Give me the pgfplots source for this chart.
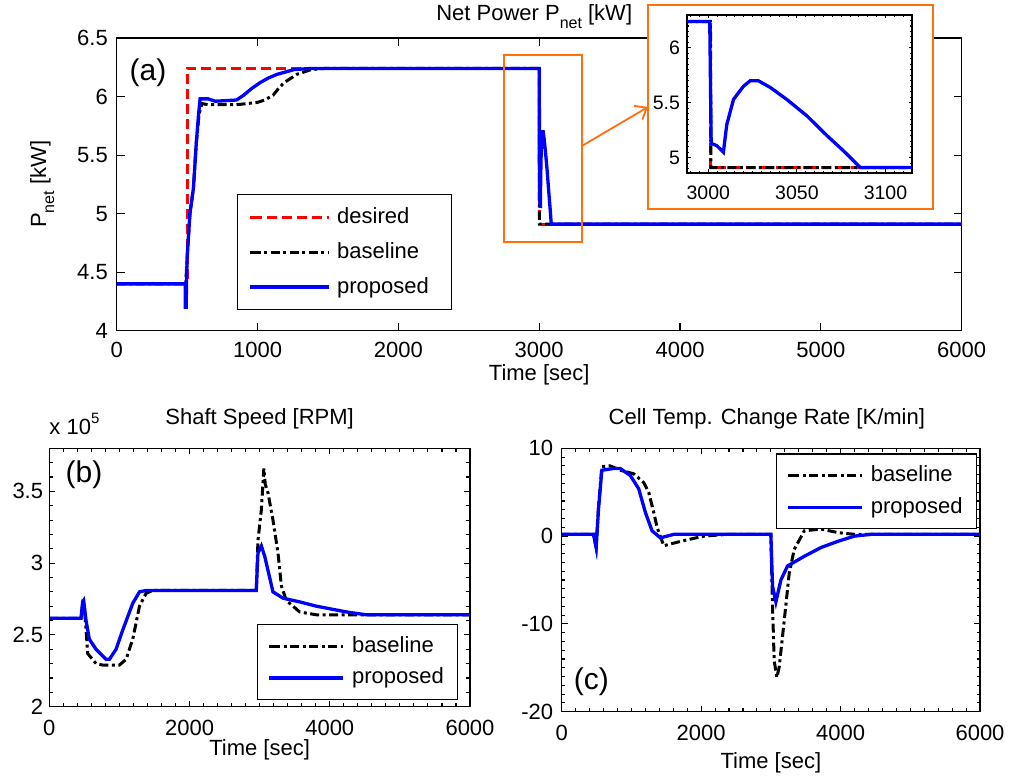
\documentclass[border=0pt]{standalone}
\usepackage{fontspec}
\setmainfont{Liberation Sans}
\usepackage{pgfplots}
\usepackage{pgfplotstable}
\pgfplotsset{compat=1.18}
\usetikzlibrary{arrows.meta}
\definecolor{myorange}{RGB}{255,110,15}
\newcommand{\fs}{\fontsize{22}{26}\selectfont}
\newcommand{\fsm}{\fontsize{19.5}{23}\selectfont}
\newcommand{\fsl}{\fontsize{30}{34}\selectfont}
\newcommand{\net}{\raisebox{-8pt}{\fontsize{16}{16}\selectfont net}}

\pgfplotstableread{
x y
0 4.4
500 4.4
500 6.24
3001 6.24
3001 4.91
6000 4.91
}\desA
\pgfplotstableread{
x y
0 4.4
490 4.4
500 4.62
520 5.0
545 5.22
565 5.6
585 5.85
605 5.94
650 5.93
850 5.93
1000 5.95
1050 5.97
1110 6.01
1150 6.07
1190 6.12
1280 6.19
1380 6.23
1480 6.24
3001.2 6.24
3001.5 4.91
6000 4.91
}\baseA
\pgfplotstableread{
x y
0 4.4
486 4.4
487 4.2
494 4.2
495 4.4
500 4.62
520 5.0
545 5.22
565 5.6
580 5.83
592 5.98
650 5.98
700 5.96
850 5.97
900 6.01
960 6.07
1020 6.12
1080 6.16
1140 6.19
1260 6.23
1380 6.24
3000.8 6.24
3001.6 5.13
3004.7 5.11
3008.5 5.05
3010.4 5.30
3014.2 5.53
3019.8 5.65
3023.6 5.70
3028.3 5.70
3034.9 5.64
3044.3 5.53
3055.7 5.38
3067 5.20
3076.4 5.06
3085.8 4.91
6000 4.91
}\propA
\pgfplotstableread{
x y
0 2.616
452 2.616
476 2.72
500 2.70
548 2.37
667 2.30
762 2.29
1000 2.29
1095 2.33
1190 2.47
1286 2.70
1381 2.79
1476 2.81
2952 2.81
2976 3.16
3024 3.37
3060 3.66
3080 3.55
3119 3.49
3190 3.30
3262 3.07
3310 2.84
3381 2.74
3571 2.66
3810 2.64
6000 2.64
}\baseB
\pgfplotstableread{
x y
0 2.616
452 2.616
476 2.73
490 2.74
524 2.60
571 2.47
667 2.40
810 2.33
857 2.33
952 2.40
1048 2.535
1190 2.72
1286 2.80
1381 2.81
2952 2.81
2976 3.07
3024 3.12
3071 3.05
3190 2.80
3333 2.756
3571 2.73
3810 2.70
4238 2.66
4524 2.64
6000 2.64
}\propB
\pgfplotstableread{
x y
0 0.2
456 0.2
494 -1.3
528 3.3
576 7.9
696 8.0
840 7.5
1032 7.1
1176 6.1
1248 5.0
1320 2.7
1368 1.0
1464 -1.1
1704 -0.6
2040 0
2376 0.2
3000 0.2
3024 -8.0
3048 -14.2
3086 -16.1
3120 -14.9
3192 -9.6
3264 -4.2
3336 -1.5
3480 0.6
3720 0.8
3960 0.4
4200 0.2
6000 0.2
}\baseC
\pgfplotstableread{
x y
0 0.2
456 0.2
494 -1.3
528 3.1
576 7.5
744 7.7
840 7.7
984 6.9
1104 5.4
1200 2.7
1296 0.6
1416 -0.2
1608 0.2
3000 0.2
3024 -5.7
3072 -7.5
3144 -5.0
3240 -3.4
3480 -2.3
3720 -1.3
3960 -0.6
4200 0
4440 0.2
6000 0.2
}\propC

\pgfplotsset{
 myaxis/.style={
   scale only axis,
   anchor=south west,
   /pgf/number format/assume math mode=true,
   /pgf/number format/1000 sep={},
   scaled ticks=false,
   axis line style={line width=1.2pt},
   major tick style={black, line width=1.1pt},
   minor tick style={black, line width=1.1pt},
   tick align=inside,
   xticklabel style={font=\fs, inner sep=0pt, anchor=center},
   yticklabel style={font=\fs, inner sep=0pt, anchor=east},
   label style={font=\fs},
   title style={font=\fs},
   legend cell align=left,
   legend style={font=\fs, draw=black, line width=1.2pt, anchor=north west,
     inner xsep=10pt, column sep=5pt,
     nodes={inner sep=2pt, text height=16.5pt, text depth=4.5pt}},
 },
 sDes/.style={red, line width=3pt, dash pattern=on 10pt off 5pt},
 sBase/.style={black, line width=3pt, dash pattern=on 9pt off 3.5pt on 3pt off 3.5pt},
 sProp/.style={blue, line width=3.3pt},
}

\begin{document}
\begin{tikzpicture}
\path[use as bounding box] (0pt,0pt) rectangle (1009pt,778pt);

% ---------- (a) main ----------
\begin{axis}[myaxis, clip=false,
  at={(116.7pt,447.3pt)}, width=845pt, height=292.7pt,
  xmin=0, xmax=6000, ymin=4, ymax=6.5,
  xtick={0,1000,2000,3000,4000,5000,6000},
  ytick={4,4.5,5,5.5,6,6.5},
  major tick length=8pt,
  xticklabel style={yshift=-19.3pt},
  yticklabel style={xshift=-8.7pt},
  xlabel={Time [sec]},
  xlabel style={at={(axis description cs:0.5,0)}, anchor=center, yshift=-44pt},
  ylabel={P\net{} [kW]},
  ylabel style={at={(axis description cs:-0.088,0.5)}, anchor=center},
  title={Net Power P\net{} [kW]},
  title style={at={(axis description cs:0.5,1)}, anchor=base, yshift=11.7pt, xshift=-5pt},
  legend style={at={(0.1427,0.467)}, inner ysep=10pt, row sep=10pt},
  legend image code/.code={\path (0pt,0pt) -- (2pt,0pt); \draw[#1] (2pt,0pt) -- (79pt,0pt);},
]
\addplot[sDes] table {\desA};
\addlegendentry{\makebox[102pt][l]{desired}}
\addplot[sBase] table {\baseA};
\addlegendentry{\makebox[102pt][l]{baseline}}
\addplot[sProp] table {\propA};
\addlegendentry{\makebox[102pt][l]{proposed}}
\node[font=\fsl] at (rel axis cs:0.037,0.882) {(a)};
\coordinate (rA) at (axis cs:2752,6.355);
\coordinate (rB) at (axis cs:3304,4.754);
\coordinate (ar1) at (axis cs:3304,5.578);
\coordinate (ar2) at (axis cs:3773,5.911);
\coordinate (oA) at (axis cs:3773,6.782);
\coordinate (oB) at (axis cs:5796,5.041);
\end{axis}

\draw[myorange, line width=2pt] (rA) rectangle (rB);
\draw[myorange, line width=1.8pt, -{Straight Barb[length=10pt,width=16pt,line width=1.8pt]}] (ar1) -- (ar2);
\draw[myorange, line width=2.2pt, fill=white] (oA) rectangle (oB);

% ---------- inset ----------
\begin{axis}[myaxis,
  at={(687pt,605pt)}, width=225pt, height=158pt,
  xmin=2988, xmax=3115, ymin=4.86, ymax=6.3,
  xtick={3000,3050,3100}, ytick={5,5.5,6},
  minor xtick={2990,2995,...,3115},
  minor ytick={4.9,4.95,...,6.3},
  major tick length=3.5pt, minor tick length=2.2pt,
  xticklabel style={font=\fsm, yshift=-20pt},
  yticklabel style={font=\fsm, xshift=-7pt},
]
\addplot[sDes] table {\desA};
\addplot[sBase] table {\baseA};
\addplot[sProp] table {\propA};
\end{axis}

% ---------- (b) ----------
\begin{axis}[myaxis, clip=false,
  at={(49.3pt,71.3pt)}, width=420.7pt, height=258.4pt,
  xmin=0, xmax=6000, ymin=2, ymax=3.8,
  xtick={0,2000,4000,6000}, ytick={2,2.5,3,3.5},
  minor xtick={200,400,...,5800},
  minor ytick={2.1,2.2,...,3.75},
  major tick length=6pt, minor tick length=3.5pt,
  xticklabel style={yshift=-21.6pt},
  yticklabel style={xshift=-6pt},
  xlabel={Time [sec]},
  xlabel style={at={(axis description cs:0.5,0)}, anchor=center, yshift=-43.3pt},
  title={Shaft Speed [RPM]},
  title style={at={(axis description cs:0.5,1)}, anchor=base, yshift=17.6pt},
  legend style={at={(0.494,0.320)}, inner ysep=9pt, row sep=6.8pt},
  legend image code/.code={\path (0pt,0pt) -- (2pt,0pt); \draw[#1] (2pt,0pt) -- (74pt,0pt);},
]
\addplot[sBase] table {\baseB};
\addlegendentry{\makebox[93.6pt][l]{baseline}}
\addplot[sProp] table {\propB};
\addlegendentry{\makebox[93.6pt][l]{proposed}}
\node[font=\fsl] at (rel axis cs:0.0825,0.897) {(b)};
\node[font=\fs, anchor=base west, inner sep=0pt] at ([yshift=13.3pt]rel axis cs:0,1) {x 10\raisebox{11pt}{\fontsize{15}{15}\selectfont 5}};
\end{axis}

% ---------- (c) ----------
\begin{axis}[myaxis, clip=false,
  at={(561.7pt,66.3pt)}, width=418.3pt, height=263.4pt,
  xmin=0, xmax=6000, ymin=-20, ymax=10,
  xtick={0,2000,4000,6000}, ytick={-20,-10,0,10},
  minor xtick={200,400,...,5800},
  minor ytick={-19,-18,...,9},
  major tick length=6pt, minor tick length=3.5pt,
  xticklabel style={yshift=-21.3pt},
  yticklabel style={xshift=-8.4pt},
  xlabel={Time [sec]},
  xlabel style={at={(axis description cs:0.5,0)}, anchor=center, yshift=-51.3pt},
  title={Cell Temp. Change Rate [K/min]},
  title style={at={(axis description cs:0.5,1)}, anchor=base, yshift=17.6pt, xshift=-4pt},
  legend style={at={(0.512,0.981)}, inner ysep=9pt, row sep=6.8pt},
  legend image code/.code={\path (0pt,0pt) -- (2pt,0pt); \draw[#1] (2pt,0pt) -- (74pt,0pt);},
]
\addplot[sBase] table {\baseC};
\addlegendentry{\makebox[94pt][l]{baseline}}
\addplot[sProp] table {\propC};
\addlegendentry{\makebox[94pt][l]{proposed}}
\node[font=\fsl] at (rel axis cs:0.0712,0.113) {(c)};
\end{axis}
\end{tikzpicture}
\end{document}
